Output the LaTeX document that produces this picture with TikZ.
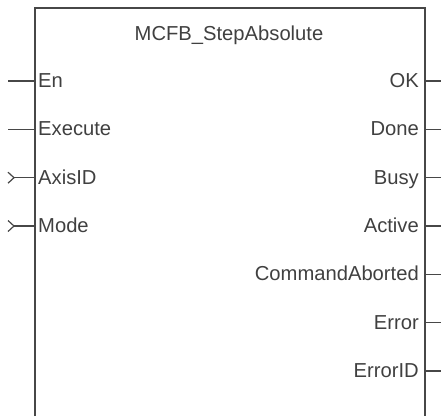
\documentclass[tikz,border=0pt]{standalone}
\usepackage{fontspec}
\setmainfont{Liberation Sans}
\usetikzlibrary{positioning,calc}

\begin{document}
\begin{tikzpicture}[x=1pt, y=-1pt,
    pinlabel/.style={font=\fontsize{20.2}{23}\selectfont, text=black!75, inner sep=0pt},
    pinline/.style={draw=black!72, line width=1.2pt}]
  \useasboundingbox (0,0) rectangle (441,416);

  % Block outline (open at the bottom)
  \draw[pinline] (35,416) -- (35,8) -- (425,8) -- (425,416);
  \node[pinlabel, anchor=base] (title) at (229,40) {MCFB\_StepAbsolute};

  % Inputs (left)
  \foreach \name/\y in {En/81, Execute/129.3} {
    \node[pinlabel, anchor=base west] (in\name) at (38,\y+6.5) {\name};
    \coordinate (inpin\name) at (35,\y);
    \coordinate (inend\name) at (8,\y);
    \draw[pinline] (inend\name) -- (inpin\name);
  }
  \foreach \name/\y in {AxisID/177.7, Mode/226} {
    \node[pinlabel, anchor=base west] (in\name) at (38,\y+6.5) {\name};
    \coordinate (inpin\name) at (35,\y);
    \coordinate (inend\name) at (14,\y);
    \draw[pinline] (inend\name) -- (inpin\name);
    \draw[pinline] ($(inend\name)+(-6,-5.5)$) -- (inend\name) -- ($(inend\name)+(-6,5.5)$);
  }

  % Outputs (right)
  \foreach \name/\y in {OK/81, Done/129.3, Busy/177.7, Active/226, CommandAborted/274.3, Error/322.7, ErrorID/371} {
    \node[pinlabel, anchor=base east] (out\name) at (419,\y+6.5) {\name};
    \coordinate (outpin\name) at (425,\y);
    \coordinate (outend\name) at (441,\y);
    \draw[pinline] (outpin\name) -- (outend\name);
  }
\end{tikzpicture}
\end{document}
